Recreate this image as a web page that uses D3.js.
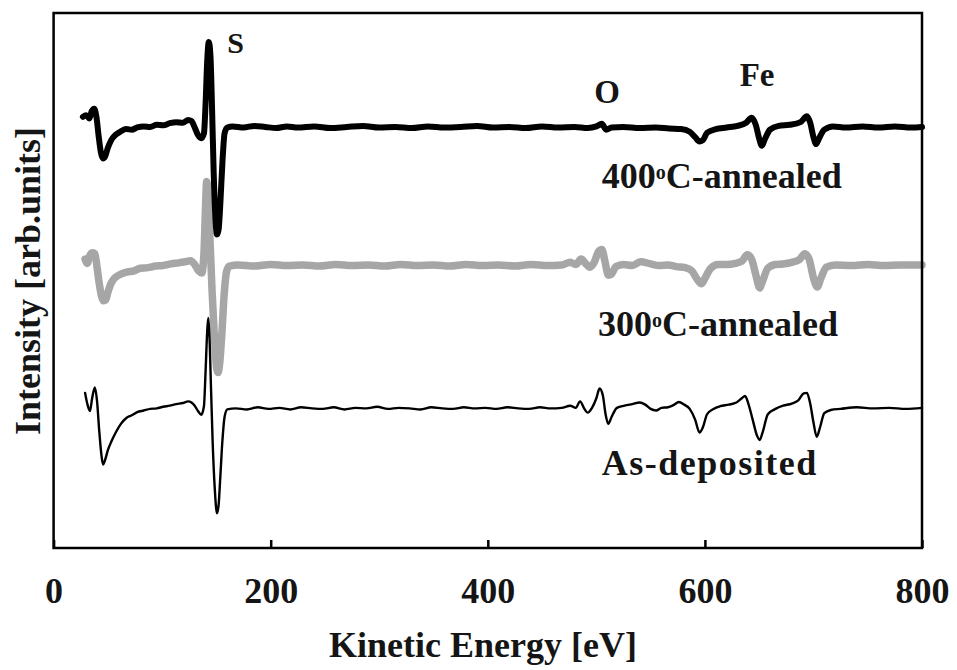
<!DOCTYPE html>
<html>
<head>
<meta charset="utf-8">
<script src="https://cdn.jsdelivr.net/npm/d3@7"></script>
<style>
  html, body { margin: 0; padding: 0; background: #fff; }
  svg { display: block; }
</style>
</head>
<body>
<div id="chart"></div>
<script>
// ---------- data (energy in eV, intensity in arbitrary units) ----------
const xTicks = [0, 200, 400, 600, 800];

const annealed400 = [
  [27, 80.6], [30, 80.9], [33, 80.3], [35, 81.6], [37.5, 82.1], [39.5, 80.5], [41.5, 77.0], [43.5, 74.0],
  [45.5, 72.8], [47.5, 73.2], [50, 74.8], [53, 76.2], [57, 77.2], [62, 77.9], [67, 78.3], [72, 78.2],
  [77, 78.6], [83, 78.8], [89, 78.7], [95, 79.1], [101, 79.0], [107, 79.4], [113, 79.6], [119, 79.5],
  [124, 80.0], [127, 79.8], [130, 78.6], [133, 77.2], [136, 76.6], [138.5, 77.5], [140, 83], [141.5, 91],
  [143, 94.6], [144.5, 92], [146, 82], [147.5, 70], [149, 62], [150.5, 58.6], [152, 59.5], [153.5, 64],
  [155.5, 72], [157.5, 77.5], [160, 78.6], [165, 78.8], [175, 78.6], [185, 78.9], [195, 78.7], [205, 78.5],
  [215, 78.8], [225, 78.6], [240, 78.8], [255, 78.5], [270, 78.7], [285, 78.9], [300, 78.6], [315, 78.7],
  [330, 78.5], [345, 78.8], [360, 78.6], [375, 78.7], [390, 78.9], [405, 78.6], [420, 78.7], [435, 78.5],
  [450, 78.8], [465, 78.6], [480, 78.7], [492, 78.5], [500, 78.8], [505, 79.3], [509, 78.2], [514, 78.6],
  [525, 78.7], [540, 78.5], [555, 78.6], [567, 78.4], [578, 78.3], [586, 77.8], [591, 76.8], [595, 76.0],
  [598, 76.2], [602, 77.6], [610, 78.3], [620, 78.6], [630, 78.9], [638, 79.5], [643, 80.4], [647, 79.0],
  [650, 76.5], [652.5, 75.2], [655, 76.3], [660, 78.2], [668, 78.9], [678, 79.1], [688, 79.6], [694, 80.7],
  [697, 79.5], [700, 76.8], [702.5, 75.5], [705, 76.5], [710, 78.2], [718, 78.8], [730, 78.6], [745, 78.8],
  [760, 78.6], [775, 78.8], [790, 78.6], [800, 78.7]
];

const annealed300 = [
  [29, 54.0], [31, 53.2], [33, 54.5], [36, 55.2], [38, 55.0], [40, 52.5], [42, 49.5], [44, 47.2],
  [46, 46.2], [48, 46.4], [50, 47.8], [53, 49.5], [57, 50.6], [62, 51.2], [68, 51.6], [74, 51.8],
  [80, 52.3], [87, 52.4], [94, 52.7], [101, 52.8], [108, 53.1], [115, 53.3], [121, 53.5], [126, 53.7],
  [130, 53.0], [133.5, 51.8], [136.5, 51.4], [138.5, 55], [140, 64], [141, 68.5], [142.5, 66], [144, 58],
  [146, 48], [148, 40], [150, 34], [151.5, 32.8], [153, 34.5], [155, 40], [157, 47], [159.5, 51.8],
  [162, 52.7], [170, 52.9], [185, 52.7], [200, 53.0], [215, 52.8], [230, 52.9], [245, 52.7], [260, 53.0],
  [275, 52.8], [290, 52.9], [305, 52.7], [320, 53.0], [335, 52.8], [350, 52.9], [365, 52.7], [380, 53.0],
  [395, 52.8], [410, 52.9], [425, 52.7], [440, 53.0], [455, 52.8], [468, 52.9], [476, 53.4], [481, 53.0],
  [486, 54.0], [490, 53.2], [494, 52.5], [498, 53.4], [502, 55.4], [505, 55.8], [508, 53.5], [511, 51.0],
  [514, 51.2], [518, 52.6], [525, 53.0], [533, 52.8], [541, 53.5], [550, 53.1], [558, 52.8], [566, 52.9],
  [574, 52.6], [582, 52.4], [588, 51.8], [593, 50.2], [597, 49.4], [600, 50.4], [605, 52.2], [612, 53.0],
  [620, 53.0], [628, 53.2], [634, 53.6], [639, 54.8], [643, 54.0], [647, 51.0], [650.5, 48.6], [653, 49.8],
  [658, 52.3], [665, 53.0], [672, 53.1], [680, 53.4], [687, 53.9], [692, 55.0], [696, 54.0], [700, 50.5],
  [703.5, 48.8], [707, 50.5], [712, 52.5], [720, 52.9], [735, 52.8], [750, 53.0], [765, 52.8], [780, 52.9],
  [800, 52.9]
];

const asDeposited = [
  [29, 29.0], [31, 27.0], [33.5, 25.6], [35.5, 28.0], [38, 30.0], [40, 27.5], [42, 22.0], [44, 17.5],
  [45.5, 15.6], [47.5, 16.5], [50, 18.3], [53, 19.8], [57, 21.5], [62, 23.2], [67, 24.3], [72, 24.8],
  [77, 25.4], [83, 25.7], [89, 26.0], [95, 26.1], [101, 26.4], [107, 26.6], [113, 26.9], [119, 27.1],
  [124, 27.4], [127, 27.2], [130, 26.6], [133, 25.6], [136, 24.9], [138.5, 26.5], [140, 33], [141.5, 40.5],
  [142.5, 43.0], [143.5, 40], [145, 30], [146.5, 20], [148.5, 11], [150.5, 6.5], [152, 8], [153.5, 13],
  [155.5, 20], [157.5, 24.5], [160, 25.9], [168, 26.1], [178, 25.9], [188, 26.3], [198, 26.0], [208, 26.2],
  [218, 25.9], [228, 26.3], [238, 26.1], [248, 26.0], [258, 26.3], [268, 25.9], [278, 26.2], [288, 26.1],
  [298, 26.4], [308, 26.0], [318, 26.2], [328, 26.1], [338, 25.9], [348, 26.3], [358, 26.1], [368, 26.0],
  [378, 26.3], [388, 26.1], [398, 26.2], [408, 26.0], [418, 26.3], [428, 26.1], [438, 26.0], [448, 26.3],
  [458, 26.1], [468, 26.2], [476, 26.6], [481, 26.2], [485, 27.4], [489, 26.0], [492, 25.3], [496, 26.2],
  [500, 28.0], [503, 29.8], [506, 28.5], [508.5, 25.0], [511, 23.2], [514, 24.5], [519, 26.2], [526, 26.6],
  [533, 26.9], [540, 27.2], [545, 26.8], [550, 26.0], [555, 25.7], [560, 26.2], [566, 26.3], [571, 26.7],
  [576, 27.3], [581, 26.8], [586, 26.0], [591, 24.0], [595, 21.6], [598, 22.5], [602, 25.0], [608, 26.0],
  [614, 26.5], [622, 26.8], [629, 27.2], [634, 28.0], [637, 28.4], [640, 27.0], [644, 24.0], [648, 21.0],
  [650.5, 20.2], [653, 21.5], [658, 25.0], [665, 26.0], [672, 26.6], [680, 27.0], [686, 27.6], [691, 28.9],
  [694, 29.0], [697, 27.0], [700, 23.5], [703, 20.8], [706, 22.5], [710, 25.2], [716, 25.8], [725, 26.0],
  [740, 26.3], [755, 26.1], [770, 26.2], [785, 26.0], [800, 26.2]
];

// annotation texts and their anchors (energy, intensity)
const peakLabels = [
  { text: "S",  e: 160, i: 92.5, size: 30 },
  { text: "O",  e: 498, i: 83.2, size: 33 },
  { text: "Fe", e: 632, i: 86.4, size: 33 }
];
const seriesLabels = [
  { pre: "400", sup: "o", post: "C-annealed", e: 505, i: 67.3, spacing: 0 },
  { pre: "300", sup: "o", post: "C-annealed", e: 501.5, i: 39.6, spacing: 0 },
  { pre: "As-deposited", sup: "", post: "", e: 505, i: 13.6, spacing: 1.5 }
];

// ---------- layout ----------
const W = 957, H = 670;
const plot = { left: 53.6, right: 922, top: 13, bottom: 548 };
const FONT = "'Liberation Serif', 'Times New Roman', serif";
const INK = "#151515";

const svg = d3.select("#chart").append("svg")
  .attr("width", W).attr("height", H)
  .style("background", "#fff");

const x = d3.scaleLinear().domain([0, 800]).range([plot.left, plot.right]);
const y = d3.scaleLinear().domain([0, 100]).range([plot.bottom, plot.top]);

const line = d3.line()
  .x(d => x(d[0]))
  .y(d => y(d[1]))
  .curve(d3.curveMonotoneX);

// traces
svg.append("path").datum(annealed300)
  .attr("d", line).attr("fill", "none")
  .attr("stroke", "#a6a6a6").attr("stroke-width", 7.5)
  .attr("stroke-linejoin", "round").attr("stroke-linecap", "round");

svg.append("path").datum(asDeposited)
  .attr("d", line).attr("fill", "none")
  .attr("stroke", "#000").attr("stroke-width", 2.4)
  .attr("stroke-linejoin", "round").attr("stroke-linecap", "round");

svg.append("path").datum(annealed400)
  .attr("d", line).attr("fill", "none")
  .attr("stroke", "#000").attr("stroke-width", 6)
  .attr("stroke-linejoin", "round").attr("stroke-linecap", "round");

// frame
svg.append("rect")
  .attr("x", plot.left).attr("y", plot.top)
  .attr("width", plot.right - plot.left).attr("height", plot.bottom - plot.top)
  .attr("fill", "none").attr("stroke", "#000").attr("stroke-width", 2.5);

// x axis with inward ticks
const xAxis = d3.axisBottom(x).tickValues(xTicks).tickFormat(d3.format("d"))
  .tickSize(-8).tickPadding(29);
const gx = svg.append("g").attr("transform", `translate(0,${plot.bottom})`).call(xAxis);
gx.select(".domain").remove();
gx.selectAll(".tick line").attr("stroke", "#000").attr("stroke-width", 2.5);
gx.selectAll(".tick text")
  .attr("font-family", FONT).attr("font-weight", "bold")
  .attr("font-size", 36).attr("fill", INK);

// axis titles
svg.append("text")
  .attr("x", 483).attr("y", 657)
  .attr("text-anchor", "middle")
  .attr("font-family", FONT).attr("font-weight", "bold")
  .attr("font-size", 36).attr("fill", INK)
  .text("Kinetic Energy [eV]");

svg.append("text")
  .attr("transform", "translate(40,281) rotate(-90)")
  .attr("text-anchor", "middle")
  .attr("font-family", FONT).attr("font-weight", "bold")
  .attr("font-size", 36).attr("fill", INK)
  .text("Intensity [arb.units]");

// peak labels
svg.selectAll("text.peak").data(peakLabels).enter().append("text")
  .attr("class", "peak")
  .attr("x", d => x(d.e)).attr("y", d => y(d.i))
  .attr("font-family", FONT).attr("font-weight", "bold")
  .attr("font-size", d => d.size).attr("fill", INK)
  .text(d => d.text);

// series labels
const sl = svg.selectAll("text.series").data(seriesLabels).enter().append("text")
  .attr("class", "series")
  .attr("x", d => x(d.e)).attr("y", d => y(d.i))
  .attr("font-family", FONT).attr("font-weight", "bold")
  .attr("font-size", 36).attr("fill", INK)
  .attr("letter-spacing", d => d.spacing);
sl.append("tspan").text(d => d.pre);
sl.filter(d => d.sup).append("tspan")
  .attr("font-size", 20).attr("dy", -9).text(d => d.sup);
sl.filter(d => d.post).append("tspan")
  .attr("dy", 9).text(d => d.post);
</script>
</body>
</html>
